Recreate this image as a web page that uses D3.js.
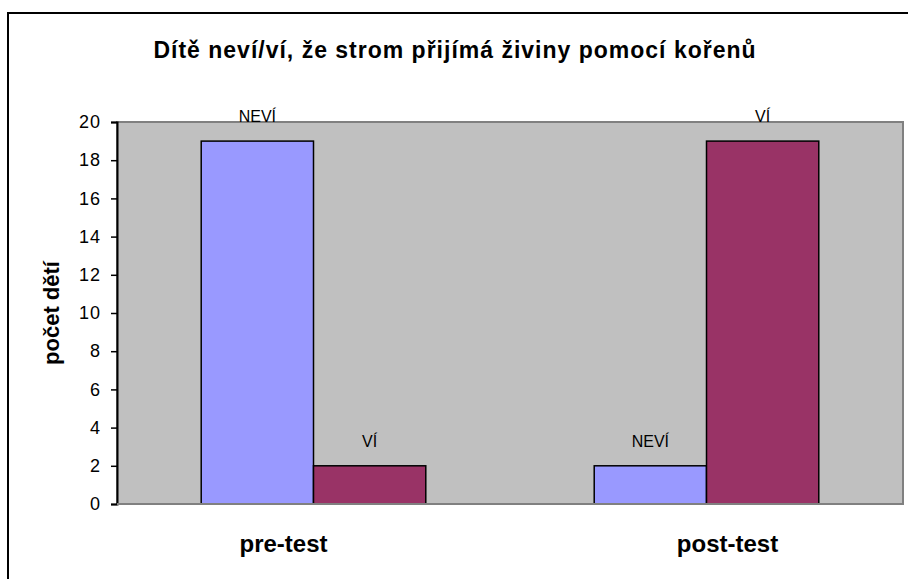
<!DOCTYPE html>
<html><head><meta charset="utf-8">
<script src="https://cdn.jsdelivr.net/npm/d3@7"></script>
<style>body{margin:0;background:#fff}svg{display:block}text{font-family:"Liberation Sans",Arial,sans-serif}</style>
</head><body><svg id="c" width="908" height="579"></svg>
<script>
const categories = ["pre-test", "post-test"];
const seriesNames = ["NEVÍ", "VÍ"];
const neviValues = [19, 2];
const viValues = [2, 19];
const yTicks = [0, 2, 4, 6, 8, 10, 12, 14, 16, 18, 20];
const colors = ["#9999FF", "#993366"];

const svg = d3.select("#c");
// outer chart border
svg.append("rect").attr("x", 8).attr("y", 13).attr("width", 920).attr("height", 600)
  .attr("fill", "none").attr("stroke", "#000").attr("stroke-width", 2);

svg.append("text").attr("x", 455).attr("y", 58).attr("text-anchor", "middle")
  .attr("font-size", 23).attr("font-weight", "bold").attr("letter-spacing", 1)
  .text("Dítě neví/ví, že strom přijímá živiny pomocí kořenů");

const L = 117, R = 903, T = 122, B = 504;
const y = d3.scaleLinear().domain([0, 20]).range([B, T]);
const x0 = d3.scaleBand().domain(categories).range([L, R]).padding(0);
const groupW = x0.bandwidth() / 1.75;
const x1 = d3.scaleBand().domain(seriesNames).range([0, groupW]).padding(0);

svg.append("rect").attr("x", L).attr("y", T).attr("width", R - L).attr("height", B - T)
  .attr("fill", "#C0C0C0").attr("stroke", "#808080").attr("stroke-width", 2);

const data = categories.map((c, i) => ({c, vals: [neviValues[i], viValues[i]]}));
const g = svg.append("g");
data.forEach(d => {
  const gx = x0(d.c) + (x0.bandwidth() - groupW) / 2;
  d.vals.forEach((v, j) => {
    const s = seriesNames[j];
    g.append("rect").attr("x", gx + x1(s)).attr("y", y(v))
      .attr("width", x1.bandwidth()).attr("height", y(0) - y(v))
      .attr("fill", colors[j]).attr("stroke", "#000").attr("stroke-width", 1.5);
    g.append("text").attr("x", gx + x1(s) + x1.bandwidth() / 2).attr("y", y(v) - 19)
      .attr("text-anchor", "middle").attr("font-size", 16).text(s);
  });
});

const yAxis = svg.append("g").attr("transform", `translate(${L},0)`)
  .call(d3.axisLeft(y).tickValues(yTicks).tickSize(6).tickPadding(10));
yAxis.select(".domain").attr("stroke", "#000").attr("stroke-width", 2);
yAxis.selectAll(".tick line").attr("stroke", "#000").attr("stroke-width", 1.5);
yAxis.selectAll(".tick text").attr("font-size", 18).attr("letter-spacing", 1)
  .attr("font-family", "Liberation Sans, Arial, sans-serif").attr("fill", "#000");

svg.append("line").attr("x1", L).attr("x2", R).attr("y1", B).attr("y2", B)
  .attr("stroke", "#808080").attr("stroke-width", 2);

const labelShift = [-30, 21];
const xAxis = svg.append("g").attr("transform", `translate(0,${B})`)
  .call(d3.axisBottom(x0).tickSize(0).tickPadding(30));
xAxis.select(".domain").remove();
xAxis.selectAll(".tick text").attr("font-size", 24).attr("font-weight", "bold")
  .attr("y", 48).attr("dy", 0).attr("dx", (d, i) => labelShift[i])
  .attr("font-family", "Liberation Sans, Arial, sans-serif").attr("fill", "#000");

svg.append("text").attr("transform", "translate(59,313) rotate(-90)")
  .attr("text-anchor", "middle").attr("font-size", 22).attr("font-weight", "bold")
  .text("počet dětí");
</script></body></html>
